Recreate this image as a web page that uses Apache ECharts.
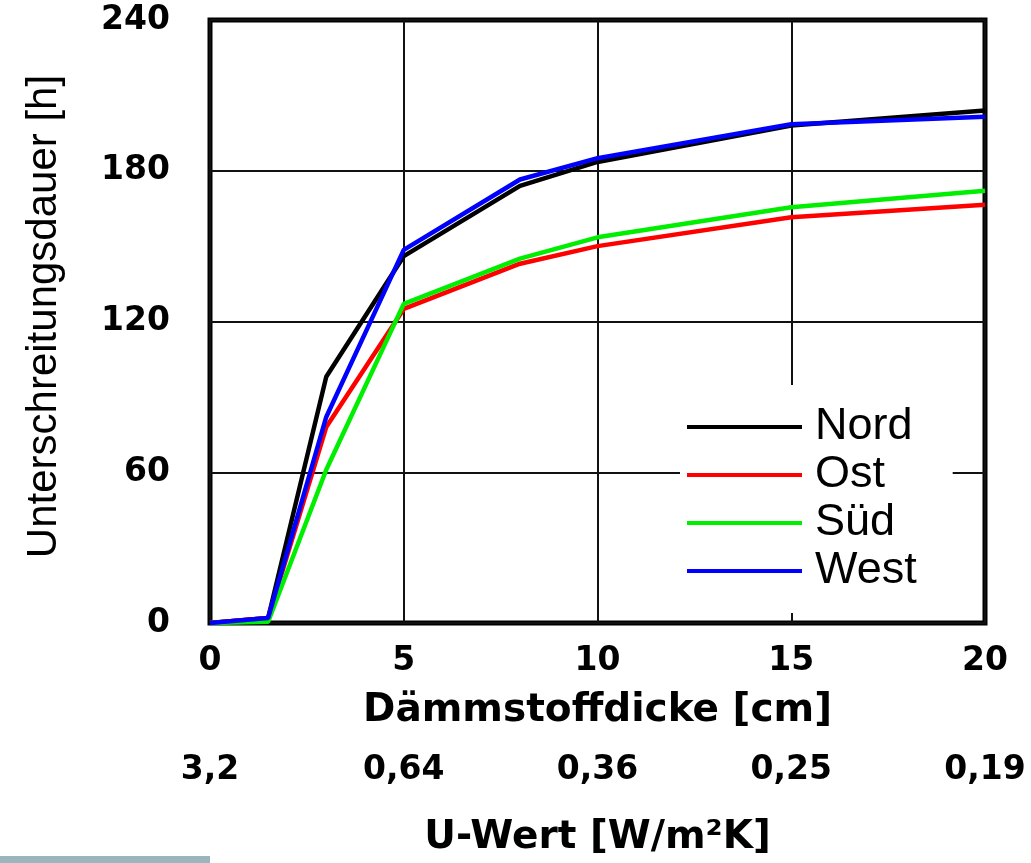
<!DOCTYPE html>
<html>
<head>
<meta charset="utf-8">
<script src="https://cdn.jsdelivr.net/npm/echarts@6/dist/echarts.min.js"></script>
<style>
html,body{margin:0;padding:0;background:#fff;}
#chart{width:1031px;height:863px;}
</style>
</head>
<body>
<div id="chart"></div>
<script>
// Dämmstoffdicke [cm]
var thickness = [0, 1.5, 3, 5, 8, 10, 15, 20];
// Unterschreitungsdauer [h]
var nord = [0, 2, 98, 146, 174, 183.5, 198, 204];
var ost  = [0, 2, 78, 125, 143, 150, 161.5, 166.5];
var sued = [0, 0.5, 61, 127, 145, 153.5, 165.5, 172];
var west = [0, 2, 82, 148.5, 176.5, 185, 198.5, 201.5];
var seriesNames = ['Nord', 'Ost', 'Süd', 'West'];
// U-Wert tick labels at 0, 5, 10, 15, 20 cm
var uLabels = ['3,2', '0,64', '0,36', '0,25', '0,19'];

function pairs(ys) { return thickness.map(function (x, i) { return [x, ys[i]]; }); }

var colors = ['#000000', '#ff0000', '#00ee00', '#0000ff'];
var values = [nord, ost, sued, west];

var chart = echarts.init(document.getElementById('chart'), null, {renderer: 'canvas'});
var tickFont = {fontFamily: 'DejaVu Sans', fontWeight: 'bold', fontSize: 33, color: '#000'};

chart.setOption({
  animation: false,
  backgroundColor: '#fff',
  grid: {left: 210, right: 46, top: 20, bottom: 240, show: true, borderWidth: 5, borderColor: '#000', backgroundColor: 'transparent'},
  legend: {
    data: seriesNames,
    left: 680, top: 385,
    orient: 'vertical',
    icon: 'rect',
    backgroundColor: '#fff',
    padding: [18, 36, 18, 7],
    itemWidth: 115, itemHeight: 4, itemGap: 0,
    textStyle: {fontFamily: 'Liberation Sans', fontSize: 45, color: '#000', lineHeight: 48, padding: [0, 0, 0, 8]},
    z: 10
  },
  xAxis: [{
    type: 'value', min: 0, max: 20, interval: 5,
    axisLine: {show: false},
    axisTick: {show: false},
    splitLine: {show: true, lineStyle: {color: '#111', width: 2}},
    axisLabel: Object.assign({margin: 22}, tickFont),
    name: 'Dämmstoffdicke [cm]', nameLocation: 'middle', nameGap: 68,
    nameTextStyle: {fontFamily: 'DejaVu Sans', fontWeight: 'bold', fontSize: 39, color: '#000'}
  }, {
    type: 'value', min: 0, max: 20, interval: 5, position: 'bottom', offset: 124,
    axisLine: {show: false}, axisTick: {show: false}, splitLine: {show: false},
    axisLabel: Object.assign({margin: 7, formatter: function (v) { return uLabels[Math.round(v / 5)]; }}, tickFont),
    name: 'U-Wert [W/m²K]', nameLocation: 'middle', nameGap: 71,
    nameTextStyle: {fontFamily: 'DejaVu Sans', fontWeight: 'bold', fontSize: 39, color: '#000'}
  }],
  yAxis: {
    type: 'value', min: 0, max: 240, interval: 60,
    axisLine: {show: false}, axisTick: {show: false},
    splitLine: {show: true, lineStyle: {color: '#111', width: 2}},
    axisLabel: Object.assign({margin: 40}, tickFont),
    name: 'Unterschreitungsdauer [h]', nameLocation: 'middle', nameGap: 145,
    nameTextStyle: {fontFamily: 'Liberation Sans', fontSize: 42, color: '#000', padding: [0, 0, 0, 10]}
  },
  graphic: [{type: 'rect', shape: {x: 0, y: 856, width: 210, height: 7}, style: {fill: '#9ab6bc'}}],
  series: seriesNames.map(function (n, i) {
    return {
      name: n, type: 'line', xAxisIndex: 0, data: pairs(values[i]),
      symbol: 'none', color: colors[i],
      lineStyle: {color: colors[i], width: 4.5}
    };
  })
});
</script>
</body>
</html>
